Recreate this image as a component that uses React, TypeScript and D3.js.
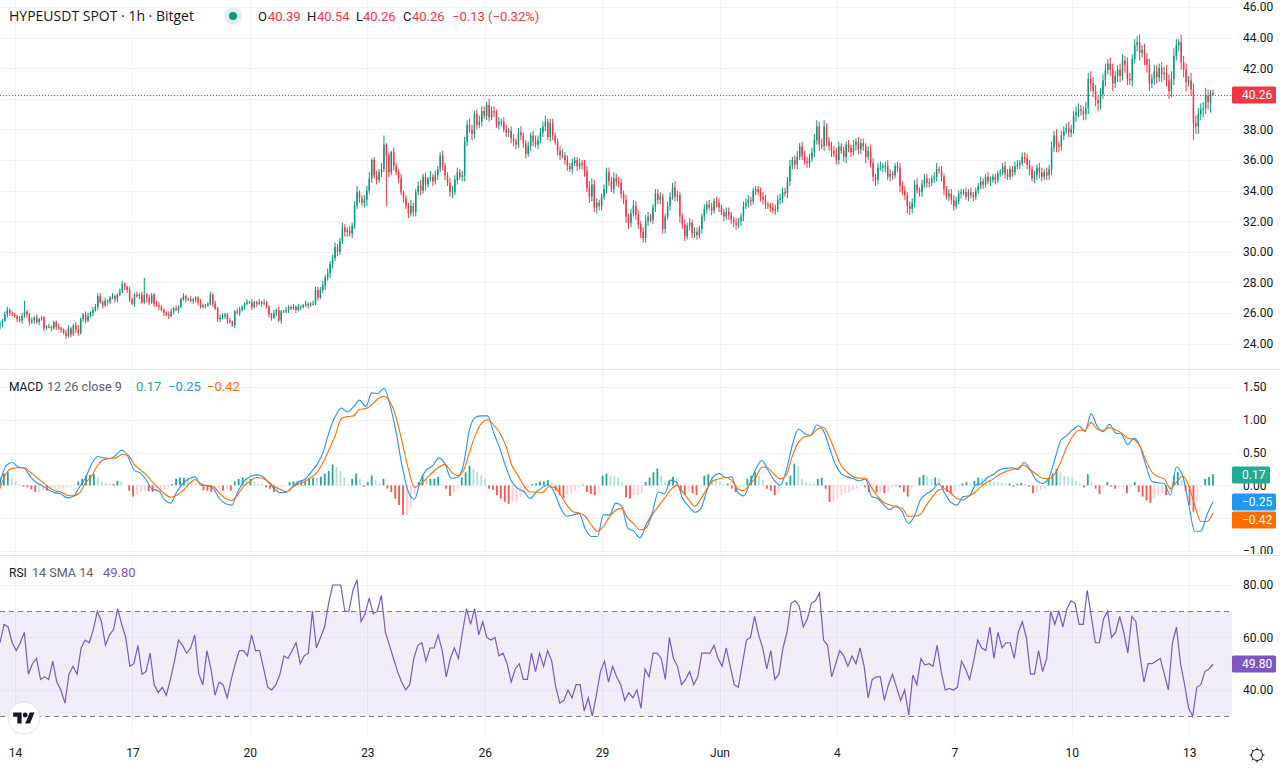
import * as d3 from 'd3';
import { useEffect, useRef } from 'react';

const FONT = "Roboto, 'Open Sans', sans-serif";
const UP = '#089981';
const DOWN = '#f23645';

// days counted from the 14th, x axis
const firstDay = -0.383;
const lastDay = 30.608;
const tickDays = [0, 3, 6, 9, 12, 15, 18, 21, 24, 27, 30];
const tickLabels = ['14', '17', '20', '23', '26', '29', 'Jun', '4', '7', '10', '13'];

const priceTicks = [46, 44, 42, 40, 38, 36, 34, 32, 30, 28, 26, 24];
const macdTicks = [1.5, 1, 0.5, 0, -0.5, -1];
const rsiTicks = [80, 60, 40];
// these scale labels sit behind a value tag
const hiddenPriceLabels = [40];
const hiddenMacdLabels = [-0.5];

// candle closes (open = previous close), 16 bars per day
const closes = [
  25.3,25.5,25.9,26.2,26.0,25.9,25.8,25.6,25.5,25.8,
  26.1,25.9,25.4,25.5,25.7,25.4,25.6,25.7,25.0,25.1,
  25.1,25.0,25.4,25.1,25.0,24.9,24.7,24.5,25.0,24.6,
  25.2,24.9,24.7,25.6,25.9,25.5,25.8,26.0,26.2,26.4,
  27.1,26.7,26.5,26.8,26.7,27.0,27.1,26.9,27.2,27.4,
  27.9,27.7,27.5,26.9,26.6,27.2,27.1,27.2,26.7,27.2,
  27.0,26.7,27.2,26.6,26.5,26.4,26.2,26.0,25.9,25.8,
  26.1,26.3,26.2,26.4,26.9,27.1,26.9,26.9,26.8,26.9,
  27.0,26.7,26.4,26.5,26.5,26.6,27.2,26.6,26.3,25.6,
  25.7,25.8,25.9,25.5,25.4,25.2,26.1,26.0,26.2,26.4,
  26.6,26.7,26.7,26.4,26.7,26.6,26.7,26.6,26.7,26.4,
  25.9,25.7,26.0,26.2,25.5,26.1,26.1,26.2,26.4,26.3,
  26.4,26.2,26.4,26.4,26.5,26.6,26.5,26.6,26.6,27.5,
  27.0,27.5,27.8,28.3,28.6,29.2,29.6,30.3,30.0,30.7,
  31.6,31.3,31.4,31.2,31.7,33.0,33.9,33.5,33.2,33.4,
  34.0,34.8,36.0,35.0,34.7,35.2,35.4,37.0,36.3,35.2,
  36.5,35.6,35.2,34.8,33.9,33.5,33.0,32.5,33.0,32.6,
  33.9,34.3,34.0,34.9,34.4,34.8,34.9,34.6,35.0,35.4,
  36.3,35.6,35.0,34.5,33.9,33.9,34.7,35.2,34.9,35.0,
  37.2,38.3,38.0,37.7,39.0,38.3,38.5,39.2,38.9,39.6,
  38.8,39.2,39.1,38.3,38.5,38.5,38.0,37.8,37.9,37.4,
  37.2,37.0,37.8,37.6,37.1,36.4,36.9,37.6,37.2,37.0,
  37.3,37.8,38.2,38.5,37.5,38.4,37.6,37.2,36.6,36.3,
  36.3,36.0,35.6,35.4,35.8,36.0,35.6,35.8,35.7,35.3,
  34.2,33.6,34.4,32.9,33.2,33.0,33.6,34.1,35.2,34.6,
  34.1,34.8,34.6,34.5,33.8,33.4,32.3,31.9,32.5,33.0,
  32.4,31.8,31.3,30.9,32.0,32.3,32.1,32.9,33.8,33.4,
  33.6,31.5,32.3,33.0,33.6,34.2,33.6,33.7,32.3,31.8,
  31.0,31.7,31.9,31.2,31.3,31.1,31.5,32.3,32.8,33.1,
  32.9,32.7,33.3,33.2,32.9,32.6,32.3,32.6,32.4,32.1,
  31.9,31.75,32.0,32.3,33.0,33.2,33.4,33.3,34.0,34.1,
  33.9,33.6,33.4,33.1,33.0,32.9,32.7,32.8,33.4,33.5,
  33.9,33.8,34.6,35.6,36.0,35.7,36.2,36.9,36.3,35.9,
  35.8,36.1,36.5,37.3,38.2,37.0,36.9,38.2,37.2,36.9,
  36.6,36.4,36.0,36.9,36.6,36.2,37.0,36.8,36.5,37.0,
  37.2,36.7,37.1,36.9,36.2,36.6,35.8,34.9,34.7,35.5,
  35.5,35.6,35.6,34.9,35.1,35.0,35.6,35.5,34.3,34.0,
  33.7,33.0,32.8,33.2,34.4,34.0,33.9,34.4,34.8,34.5,
  34.5,34.8,34.9,35.4,35.3,34.9,34.1,33.6,33.8,33.4,
  33.0,33.3,33.8,33.9,33.9,33.6,33.9,33.7,33.6,34.0,
  34.3,34.6,34.4,34.9,34.6,34.7,34.9,34.7,35.1,35.2,
  35.6,35.1,34.9,35.4,35.2,35.6,35.7,35.8,36.2,36.1,
  35.7,35.4,34.8,35.0,35.5,35.2,34.9,35.2,35.0,35.4,
  36.8,37.6,37.0,36.9,37.6,37.9,38.1,37.8,38.0,38.9,
  39.1,39.3,39.2,39.0,39.4,41.3,41.0,40.5,39.9,39.7,
  40.3,41.2,41.9,42.3,41.9,41.0,41.5,41.9,41.5,42.5,
  42.2,41.3,41.2,42.6,43.5,43.7,43.0,43.2,42.6,42.2,
  41.0,41.3,41.8,41.4,42.0,41.6,41.7,41.2,40.5,41.3,
  42.8,43.5,43.7,42.4,41.9,41.1,41.2,40.6,38.4,38.2,
  39.0,39.3,39.4,40.2,39.8,40.39,40.26,
];

// wick lengths above and below the body, in tenths of a dollar
const upWicks = [
  2,1,2,2,1,1,1,1,2,2,
  7,1,1,2,1,2,1,1,1,1,
  2,1,1,1,2,1,1,2,2,1,
  1,2,3,1,1,2,2,1,2,2,
  2,2,1,2,1,1,2,1,1,2,
  2,1,1,2,1,1,2,1,2,11,
  1,2,1,1,2,2,1,1,1,2,
  2,1,2,1,1,2,1,1,2,1,
  1,1,2,1,1,1,2,1,2,1,
  2,2,1,1,2,1,1,2,2,1,
  1,2,1,2,1,1,2,1,2,1,
  1,1,2,1,2,1,1,2,1,1,
  2,1,2,1,1,2,1,1,2,2,
  2,2,3,2,3,2,2,3,2,2,
  3,2,2,3,2,3,4,1,2,3,
  3,4,1,2,3,2,4,6,1,2,
  1,3,2,2,3,1,2,2,4,2,
  2,3,4,2,3,1,4,2,3,2,
  2,3,2,2,3,4,3,3,2,3,
  3,3,4,3,2,3,4,3,3,2,
  4,3,3,2,3,2,3,3,2,3,
  3,2,3,4,2,2,3,2,3,4,
  3,3,3,4,2,3,3,2,2,3,
  4,2,3,2,3,2,2,3,2,3,
  3,4,4,3,3,2,2,3,3,3,
  3,4,3,3,3,2,3,2,3,4,
  3,3,2,3,4,3,2,2,3,3,
  3,2,2,3,3,3,4,3,2,2,
  3,2,3,2,3,3,2,2,3,2,
  3,3,2,3,3,2,2,3,3,2,
  2,3,2,2,3,3,3,2,2,2,
  2,3,3,3,2,2,3,3,3,3,
  3,3,3,4,2,3,4,2,3,3,
  3,3,3,4,4,3,4,4,2,3,
  3,3,4,3,2,3,2,3,2,3,
  2,3,3,3,2,3,4,3,2,3,
  4,2,3,4,3,2,2,3,3,3,
  3,2,3,3,3,4,2,3,3,3,
  3,2,3,4,2,3,2,2,3,3,
  3,3,2,2,2,3,2,3,2,2,
  2,3,2,2,3,2,2,2,2,2,
  2,3,3,2,2,3,3,2,3,3,
  3,3,2,3,2,3,3,2,3,3,
  4,3,4,2,3,3,3,4,3,3,
  4,4,3,3,4,4,5,4,4,3,
  4,4,4,3,4,4,3,3,4,4,
  3,5,4,3,4,4,5,3,4,4,
  4,3,4,4,3,4,4,5,4,5,
  5,4,2,5,4,4,3,5,4,5,
  4,4,4,5,4,2,2,
];
const downWicks = [
  3,2,1,2,2,1,1,2,1,2,
  1,2,2,1,2,1,2,1,2,1,
  1,2,1,2,1,2,1,2,1,2,
  1,2,2,1,2,2,1,1,2,1,
  2,1,2,1,2,1,1,2,2,1,
  1,2,2,2,1,2,1,2,1,1,
  3,2,1,2,1,2,1,2,1,2,
  1,2,1,2,1,1,2,1,1,2,
  2,2,1,1,2,1,1,2,1,2,
  2,1,2,2,1,1,2,1,2,1,
  2,1,1,2,1,2,1,2,1,1,
  2,2,1,2,1,2,1,1,2,1,
  1,2,1,2,1,1,2,1,1,1,
  2,1,2,3,2,3,3,2,3,2,
  2,3,3,2,3,2,2,3,2,3,
  4,2,3,2,3,2,3,2,33,3,
  2,3,2,3,2,3,2,3,2,3,
  3,2,3,2,4,2,2,3,2,3,
  2,3,3,2,3,4,2,3,2,3,
  4,3,2,4,3,3,2,3,2,3,
  3,2,3,2,3,3,2,3,3,3,
  3,3,2,3,3,3,2,3,3,2,
  3,2,3,3,2,3,3,2,3,3,
  2,3,3,2,3,2,3,2,3,4,
  3,4,3,3,4,3,3,2,3,3,
  2,3,3,3,3,3,4,4,3,2,
  3,3,4,3,3,3,2,3,3,3,
  3,3,3,2,3,2,3,3,4,3,
  3,2,3,3,3,3,2,3,3,3,
  2,3,2,3,3,2,3,2,3,3,
  3,3,2,3,3,2,3,3,2,3,
  2,3,3,3,2,3,2,3,2,3,
  3,2,3,3,2,3,3,2,3,2,
  3,3,2,3,3,4,2,3,3,3,
  4,2,3,3,2,3,4,3,3,2,
  4,3,3,3,4,2,3,3,4,3,
  2,3,4,2,3,3,2,3,4,3,
  3,5,4,3,3,2,3,3,2,3,
  3,2,3,3,2,3,4,2,3,3,
  3,2,2,3,2,2,3,2,3,2,
  2,2,3,2,2,3,2,3,2,2,
  2,3,2,2,3,2,2,3,2,3,
  3,4,2,3,3,4,3,2,3,3,
  4,3,5,4,3,3,2,3,3,3,
  4,3,3,4,4,4,5,4,4,5,
  4,3,4,3,4,5,3,4,4,3,
  5,4,3,4,3,4,5,3,4,5,
  5,3,4,4,3,5,4,4,5,4,
  4,3,4,5,5,6,3,4,11,5,
  5,4,5,4,5,7,0,
];

const macdLine = [
  .03,.3,.35,.28,.26,.13,.04,-.01,-.07,-.11,
  -.13,-.19,-.17,-.03,.11,.32,.44,.42,.41,.46,
  .54,.44,.23,.19,.08,-.06,-.08,-.22,-.27,-.1,
  .03,.1,.13,0,0,-.05,-.2,-.28,-.3,-.1,
  .06,.13,.16,.14,.05,-.05,-.11,-.1,-.02,.06,
  .09,.2,.32,.5,.82,1.05,1.18,1.12,1.2,1.3,
  1.2,1.41,1.4,1.48,1.22,.8,.28,-.1,-.21,.08,
  .24,.3,.42,.33,.11,.12,.3,.84,1.04,1.06,
  1.06,.8,.56,.28,.05,-.05,-.1,-.2,-.1,-.03,
  .01,-.12,-.35,-.47,-.45,-.43,-.66,-.78,-.78,-.45,
  -.45,-.27,-.32,-.65,-.7,-.8,-.6,-.42,-.1,-.13,
  .08,.05,-.2,-.32,-.41,-.35,-.07,.13,.18,.12,
  .13,-.1,-.16,.03,.25,.38,.23,.08,0,.23,
  .62,.86,.79,.76,.92,.85,.6,.33,.18,.13,
  .1,.07,.1,-.17,-.2,-.3,-.37,-.31,-.4,-.58,
  -.47,-.22,-.13,-.07,.03,-.12,-.26,-.3,-.17,-.16,
  0,.03,.12,.17,.24,.26,.27,.24,.35,.24,
  .08,.03,.1,.38,.68,.76,.85,.91,.82,1.09,
  .9,.82,.93,.8,.78,.62,.72,.6,.3,.06,
  .04,.03,-.15,.28,.15,-.28,-.7,-.7,-.45,-.25,
];
const signalLine = [
  -.05,.18,.26,.27,.27,.2,.12,.05,-.03,-.08,
  -.1,-.15,-.16,-.12,.03,.14,.3,.39,.41,.42,
  .47,.46,.32,.24,.16,.05,-.04,-.13,-.18,-.15,
  -.08,.02,.09,.02,-.01,-.02,-.12,-.2,-.23,-.14,
  -.01,.06,.12,.11,.06,-.02,-.06,-.1,-.03,.03,
  .06,.12,.2,.35,.55,.76,1.02,1.05,1.06,1.16,
  1.17,1.23,1.32,1.36,1.27,1.03,.65,.25,-.03,.02,
  .11,.2,.28,.32,.21,.15,.22,.5,.77,.95,
  1,.92,.8,.6,.3,.15,-.01,-.1,-.1,-.11,
  -.02,-.03,-.15,-.3,-.4,-.42,-.47,-.6,-.7,-.62,
  -.48,-.38,-.35,-.5,-.59,-.68,-.65,-.45,-.32,-.2,
  -.07,0,-.1,-.22,-.32,-.2,-.05,.07,.1,.12,
  .08,-.05,-.08,.02,.12,.28,.26,.17,.1,.16,
  .45,.66,.74,.76,.85,.89,.75,.52,.3,.2,
  .13,.11,.11,-.04,-.17,-.26,-.3,-.33,-.35,-.47,
  -.47,-.44,-.3,-.17,-.07,-.05,-.12,-.2,-.22,-.16,
  -.1,-.01,.05,.1,.17,.21,.24,.27,.31,.24,
  .17,.11,.1,.17,.35,.58,.75,.84,.84,.96,
  .86,.84,.88,.85,.8,.72,.7,.6,.38,.2,
  .13,.1,-.05,.05,.14,0,-.3,-.55,-.55,-.42,
];
const macdHist = [
  .12,.18,.2,.12,.07,.02,-.02,-.03,-.06,-.1,
  -.1,-.07,-.08,-.06,-.06,-.05,-.05,-.03,-.03,-.01,
  .06,.1,.15,.16,.17,.12,.06,.04,.02,.02,
  .07,.06,0,-.08,-.17,-.14,-.1,-.08,-.09,-.1,
  -.1,-.1,-.06,-.03,.02,.1,.12,.12,.1,.07,
  .03,0,-.07,-.08,-.1,-.1,-.05,-.08,-.06,-.08,
  .06,.1,.12,.1,.1,.06,.03,.02,-.03,-.05,
  -.1,-.08,-.03,-.01,.05,.06,.06,.07,.07,.1,
  .12,.11,.13,.18,.22,.32,.28,.22,.12,.02,
  .1,.18,.1,-.02,.05,.15,.08,.03,.1,-.05,
  -.1,-.2,-.3,-.45,-.45,-.35,-.15,.05,.15,.1,
  .1,.1,.13,.02,-.05,-.16,-.1,-.05,.12,.2,
  .3,.25,.2,.15,.1,-.05,-.07,-.15,-.2,-.25,
  -.28,-.25,-.25,-.18,-.12,-.04,.02,.03,.06,.06,
  .08,.04,-.08,-.15,-.2,-.15,-.12,-.08,-.03,.01,
  -.1,-.13,-.15,-.12,.15,.18,.15,.14,.12,.05,
  -.18,-.2,-.15,-.15,-.12,.05,.12,.2,.26,.15,
  .06,.07,.13,.1,-.1,-.15,-.1,-.12,-.15,0,
  .15,.17,.13,.1,.06,.02,.03,-.05,-.1,-.05,
  -.03,.1,.15,.2,.14,.08,-.05,-.08,-.15,-.1,
  0,.05,.15,.33,.3,.1,.05,.03,.02,.1,
  .12,-.05,-.25,-.25,-.2,-.15,-.12,-.1,-.07,-.05,
  -.01,-.03,-.1,-.1,-.11,-.11,-.12,-.1,-.03,.01,
  -.03,-.1,-.17,-.05,0,.12,.16,.14,.1,.12,
  .1,-.04,-.1,-.12,-.07,-.02,.03,.05,.03,.07,
  .12,.11,.1,.08,.06,.05,.04,.03,.03,-.02,
  .02,.04,.02,-.02,-.12,-.1,-.07,-.05,.1,.18,
  .25,.2,.15,.13,.12,.07,.03,-.03,.17,.05,
  -.05,-.13,-.04,.05,-.02,-.05,-.03,-.02,-.12,-.03,
  .05,-.1,-.17,-.23,-.27,-.2,-.15,-.12,-.15,-.1,
  .15,.2,.08,-.08,-.3,-.4,-.25,-.03,.1,.13,.17,
];

const rsiLine = [
  58,65,64,58,55,58,62,46,50,52,
  44,45,44,51,43,40,35,46,49,46,
  56,59,58,63,70,66,57,61,63,71,
  65,60,49,50,57,46,47,54,42,39,
  41,38,44,51,59,57,54,56,61,46,
  42,55,48,38,43,42,37,44,50,55,
  55,53,61,55,55,48,41,40,42,46,
  53,52,55,58,50,53,54,70,56,60,
  64,73,80,80,80,70,70,78,82,66,
  69,75,69,70,76,62,57,52,47,43,
  40,42,52,57,58,51,56,56,61,55,
  45,52,56,52,62,71,65,71,61,66,
  60,59,60,53,54,50,43,48,50,44,
  44,54,47,54,49,55,51,41,35,36,
  40,37,42,42,32,37,30,38,47,51,
  43,49,45,42,36,39,37,40,33,48,
  45,54,54,52,44,60,52,49,42,44,
  47,42,45,54,54,54,57,52,49,56,
  49,42,41,50,59,60,68,61,56,48,
  55,44,46,56,62,73,74,72,64,67,
  73,74,77,59,57,45,50,55,53,49,
  53,50,56,49,37,44,45,45,36,42,
  46,41,36,40,30.5,45.7,42,52,49.5,50,
  49,57,47,40,40.6,40,41,51,48,44,
  51,59,56,55,64,52,62,56,58,58,
  52,62,66,60,46,46,55,47,52,70,
  65,70,64,71,74,73,65,65,78,68,
  58,58,67,70,60,62,68,62,54,68,
  66,53,43,50,50,51,52,46,40,58,
  64,50,42,33,30,41,42,47,48,49.8,
];

type Tag = { value: string; fill: string; yValue: number; w: number };

export default function App() {
  const ref = useRef<SVGSVGElement | null>(null);

  useEffect(() => {
    if (!ref.current) return;
    const svg = d3.select(ref.current);
    svg.selectAll('*').remove();

    const width = 1280;
    const height = 768;
    const plotRight = 1232;
    const paneBottom = 735;

    const x = d3.scaleLinear().domain([firstDay, (plotRight - 15) / 39.14]).range([0, plotRight]);
    const dayAt = (i: number, n: number) => firstDay + (i * (lastDay - firstDay)) / (n - 1);

    const yPrice = d3.scaleLinear().domain([46, 24]).range([7, 343.6]);
    const yMacd = d3.scaleLinear().domain([1.5, -1]).range([387, 551]);
    const yRsi = d3.scaleLinear().domain([80, 30]).range([585, 716.2]);

    svg.attr('viewBox', `0 0 ${width} ${height}`);
    svg.append('rect').attr('width', width).attr('height', height).attr('fill', '#fff');

    const defs = svg.append('defs');
    defs.append('clipPath').attr('id', 'macd-pane').append('rect').attr('x', 0).attr('y', 370).attr('width', width).attr('height', 184);
    const dots = defs.append('pattern').attr('id', 'rsi-dots').attr('width', 4).attr('height', 4).attr('patternUnits', 'userSpaceOnUse');
    dots.append('rect').attr('width', 4).attr('height', 4).attr('fill', 'rgba(126,87,194,0.1)');
    dots.append('rect').attr('width', 1).attr('height', 1).attr('fill', 'rgba(126,87,194,0.05)');

    // grid
    const grid = svg.append('g').attr('stroke', '#f0f3fa').attr('stroke-width', 1);
    const hline = (y: number) =>
      grid.append('line').attr('x1', 0).attr('x2', plotRight).attr('y1', Math.round(y) + 0.5).attr('y2', Math.round(y) + 0.5);
    priceTicks.forEach((t) => hline(yPrice(t)));
    macdTicks.forEach((t) => hline(yMacd(t)));
    rsiTicks.forEach((t) => hline(yRsi(t)));
    tickDays.forEach((d) =>
      grid.append('line').attr('x1', Math.round(x(d)) + 0.5).attr('x2', Math.round(x(d)) + 0.5).attr('y1', 0).attr('y2', paneBottom)
    );

    // pane separators
    [369, 555].forEach((y) =>
      svg.append('line').attr('x1', 0).attr('x2', width).attr('y1', y + 0.5).attr('y2', y + 0.5).attr('stroke', '#e0e3eb')
    );

    // RSI band
    svg.append('rect')
      .attr('x', 0).attr('width', plotRight)
      .attr('y', yRsi(70)).attr('height', yRsi(30) - yRsi(70))
      .attr('fill', 'url(#rsi-dots)');
    [70, 30].forEach((t) =>
      svg.append('line')
        .attr('x1', 0).attr('x2', plotRight)
        .attr('y1', Math.round(yRsi(t)) + 0.5).attr('y2', Math.round(yRsi(t)) + 0.5)
        .attr('stroke', '#787b86').attr('stroke-dasharray', '5 4')
    );

    // candles
    const candles = closes.map((c, i) => {
      const o = i === 0 ? 25.2 : closes[i - 1];
      return {
        day: dayAt(i, closes.length),
        o,
        c,
        h: Math.max(o, c) + upWicks[i] / 10,
        l: Math.min(o, c) - downWicks[i] / 10,
      };
    });
    const candleG = svg.append('g');
    candleG.selectAll('line').data(candles).enter().append('line')
      .attr('x1', (d) => x(d.day)).attr('x2', (d) => x(d.day))
      .attr('y1', (d) => yPrice(d.h)).attr('y2', (d) => yPrice(d.l))
      .attr('stroke', (d) => (d.c >= d.o ? UP : DOWN))
      .attr('stroke-width', 1);
    candleG.selectAll('rect').data(candles).enter().append('rect')
      .attr('x', (d) => x(d.day) - 0.75).attr('width', 1.5)
      .attr('y', (d) => yPrice(Math.max(d.o, d.c)))
      .attr('height', (d) => Math.max(1, Math.abs(yPrice(d.o) - yPrice(d.c))))
      .attr('fill', (d) => (d.c >= d.o ? UP : DOWN));

    // last price line
    const last = closes[closes.length - 1];
    svg.append('line')
      .attr('x1', 0).attr('x2', plotRight)
      .attr('y1', Math.round(yPrice(last)) + 0.5).attr('y2', Math.round(yPrice(last)) + 0.5)
      .attr('stroke', DOWN).attr('stroke-dasharray', '1 2');

    // MACD histogram
    const histColor = (v: number, i: number) => {
      const prev = i === 0 ? 0 : macdHist[i - 1];
      if (v >= 0) return v >= prev ? '#26a69a' : '#b2dfdb';
      return v < prev ? '#ff5252' : '#ffcdd2';
    };
    svg.append('g').selectAll('rect').data(macdHist).enter().append('rect')
      .attr('x', (_, i) => x(dayAt(i, macdHist.length)) - 0.9)
      .attr('width', 1.8)
      .attr('y', (d) => Math.min(yMacd(d), yMacd(0)))
      .attr('height', (d) => Math.abs(yMacd(d) - yMacd(0)))
      .attr('fill', (d, i) => histColor(d, i));

    const macdPath = d3.line<number>()
      .x((_, i) => x(dayAt(i, macdLine.length)))
      .y((d) => yMacd(d))
      .curve(d3.curveMonotoneX);
    svg.append('path').attr('d', macdPath(macdLine)).attr('fill', 'none').attr('stroke', '#2196f3').attr('stroke-width', 1.1);
    svg.append('path').attr('d', macdPath(signalLine)).attr('fill', 'none').attr('stroke', '#ff6d00').attr('stroke-width', 1.1);

    // RSI line
    const rsiPath = d3.line<number>()
      .x((_, i) => x(dayAt(i, rsiLine.length)))
      .y((d) => yRsi(d));
    svg.append('path').attr('d', rsiPath(rsiLine)).attr('fill', 'none').attr('stroke', '#7e57c2').attr('stroke-width', 1.2);

    // axes
    const styleAxis = (g: d3.Selection<SVGGElement, unknown, null, undefined>) => {
      g.attr('font-family', FONT).attr('font-size', 12);
      g.select('.domain').remove();
      g.selectAll('.tick line').remove();
      g.selectAll('text').attr('fill', '#131722');
    };
    const fmt = d3.format('.2f');
    svg.append('g').attr('transform', `translate(${plotRight},0)`)
      .call(d3.axisRight(yPrice).tickValues(priceTicks.filter((t) => !hiddenPriceLabels.includes(t))).tickFormat((d) => fmt(d as number)).tickSize(0).tickPadding(11))
      .call(styleAxis);
    svg.append('g').attr('clip-path', 'url(#macd-pane)')
      .append('g').attr('transform', `translate(${plotRight},0)`)
      .call(d3.axisRight(yMacd).tickValues(macdTicks.filter((t) => !hiddenMacdLabels.includes(t))).tickFormat((d) => fmt(d as number)).tickSize(0).tickPadding(11))
      .call(styleAxis);
    svg.append('g').attr('transform', `translate(${plotRight},0)`)
      .call(d3.axisRight(yRsi).tickValues(rsiTicks).tickFormat((d) => fmt(d as number)).tickSize(0).tickPadding(11))
      .call(styleAxis);
    svg.append('g').attr('transform', `translate(0,${paneBottom})`)
      .call(d3.axisBottom(x).tickValues(tickDays).tickFormat((_, i) => tickLabels[i]).tickSize(0).tickPadding(13))
      .call(styleAxis);

    // scale tags
    const tags: Tag[] = [
      { value: '40.26', fill: DOWN, yValue: yPrice(last), w: 44 },
      { value: '0.17', fill: '#22ab94', yValue: 474.5, w: 38 },
      { value: '\u22120.25', fill: '#2196f3', yValue: yMacd(-0.25), w: 44 },
      { value: '\u22120.42', fill: '#ff6d00', yValue: 519.5, w: 44 },
      { value: '49.80', fill: '#7e57c2', yValue: yRsi(49.8), w: 44 },
    ];
    tags.forEach((t) => {
      svg.append('rect')
        .attr('x', plotRight).attr('y', Math.round(t.yValue) - 8.5)
        .attr('width', t.w).attr('height', 17).attr('rx', 1.5)
        .attr('fill', t.fill);
      svg.append('text')
        .attr('x', plotRight + 10).attr('y', Math.round(t.yValue) + 4.2)
        .attr('font-family', FONT).attr('font-size', 12)
        .attr('fill', '#fff').text(t.value);
    });

    // header text
    const label = (xp: number, y: number, s: string, fill: string, size = 13, family = FONT) =>
      svg.append('text').attr('x', xp).attr('y', y).attr('font-family', family).attr('font-size', size).attr('fill', fill).text(s);

    label(9, 21, 'HYPEUSDT SPOT \u00b7 1h \u00b7 Bitget', '#131722', 14, "'Open Sans', sans-serif");
    svg.append('circle').attr('cx', 233).attr('cy', 16).attr('r', 9).attr('fill', '#e3eff4');
    svg.append('circle').attr('cx', 233).attr('cy', 16).attr('r', 4).attr('fill', UP);

    const ohlc: [number, string, number, string][] = [
      [258, 'O', 268, '40.39'],
      [307, 'H', 317, '40.54'],
      [356, 'L', 363, '40.26'],
      [403, 'C', 412, '40.26'],
    ];
    ohlc.forEach(([lx, k, vx, v]) => {
      label(lx, 21, k, '#131722');
      label(vx, 21, v, DOWN);
    });
    label(452, 21, '\u22120.13 (\u22120.32%)', DOWN);

    label(9, 391, 'MACD', '#131722', 12);
    label(47, 391, '12 26 close 9', '#5d606b', 12.6);
    label(136, 391, '0.17', '#22ab94');
    label(168, 391, '\u22120.25', '#2196f3');
    label(207, 391, '\u22120.42', '#ff6d00');

    label(9, 577, 'RSI', '#131722', 12);
    label(32, 577, '14 SMA 14', '#5d606b', 12.6);
    label(103, 577, '49.80', '#7e57c2');

    // logo
    const logo = svg.append('g');
    logo.append('circle').attr('cx', 24).attr('cy', 718).attr('r', 16).attr('fill', '#fff').attr('stroke', '#e0e3eb');
    const glyph = logo.append('g').attr('transform', 'translate(13.2,710.2) scale(0.6)').attr('fill', '#131722');
    glyph.append('path').attr('d', 'M14 22H7V11H0V4h14v18zM28 22h-8l7.5-18h8L28 22z');
    glyph.append('circle').attr('cx', 20).attr('cy', 8).attr('r', 4);

    // settings icon
    const sun = svg.append('g').attr('transform', 'translate(1257,755)').attr('stroke', '#131722').attr('fill', 'none');
    sun.append('circle').attr('r', 5.5);
    d3.range(8).forEach((i) => {
      const a = (i * Math.PI) / 4;
      sun.append('line')
        .attr('x1', 5.5 * Math.cos(a)).attr('y1', 5.5 * Math.sin(a))
        .attr('x2', 7.5 * Math.cos(a)).attr('y2', 7.5 * Math.sin(a));
    });
  }, []);

  return (
    <svg
      ref={ref}
      width={1280}
      height={768}
      style={{ position: 'absolute', top: 0, left: 0, display: 'block' }}
      role="img"
      aria-label="HYPEUSDT 1h candlestick chart with MACD and RSI"
    />
  );
}
